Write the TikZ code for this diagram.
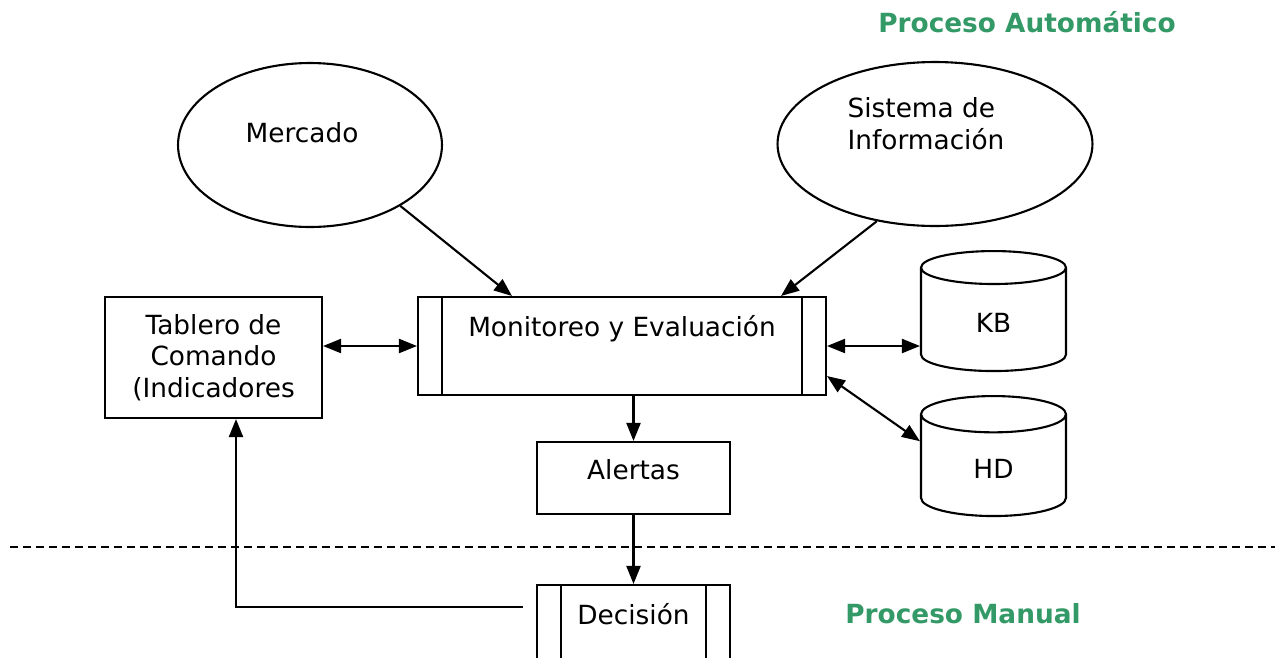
\documentclass[tikz,border=0pt]{standalone}
\usepackage{fontspec}
\setmainfont{DejaVu Sans}
\usetikzlibrary{arrows.meta,shapes.geometric}
\definecolor{procgreen}{RGB}{51,153,102}
\tikzset{
  box/.style={draw, rectangle, line width=1.2pt, align=center},
  process/.style={box, inner ysep=0pt, text height=7.8mm, text depth=11.8mm,
    path picture={
      \draw[line width=1.2pt] ([xshift=4.8mm]path picture bounding box.north west) -- ([xshift=4.8mm]path picture bounding box.south west);
      \draw[line width=1.2pt] ([xshift=-4.8mm]path picture bounding box.north east) -- ([xshift=-4.8mm]path picture bounding box.south east);}},
  source/.style={draw, ellipse, line width=1.2pt},
  store/.style={draw, cylinder, shape border rotate=90, aspect=0.7, line width=1.2pt,
    minimum width=2.9cm, minimum height=2.4cm, anchor=north},
  flow/.style={line width=1.2pt, -{Triangle[length=3.6mm,width=2.8mm]}},
  twoway/.style={line width=1.2pt, {Triangle[length=3.6mm,width=2.8mm]}-{Triangle[length=3.6mm,width=2.8mm]}},
  zone/.style={text=procgreen, font=\fontsize{15}{18}\selectfont\bfseries}
}
\begin{document}
\begin{tikzpicture}[x=0.02cm, y=-0.02cm, every node/.style={font=\fontsize{15}{18}\selectfont}]
  \clip (0,0) rectangle (1275,657);

  % sources
  \node[source, minimum width=5.28cm, minimum height=3.28cm, text height=2mm, text depth=3mm] (merc) at (310,145) {Mercado\hspace*{3.2mm}};
  \node[source, minimum width=6.3cm, minimum height=3.28cm, align=left, text height=2.24mm, text depth=0mm] (sis) at (935,144) {Sistema de\\Información\hspace*{3.6mm}};

  % boxes
  \node[box, minimum width=4.34cm, minimum height=2.42cm] (tab) at (213.5,357.5) {Tablero de\\Comando\\(Indicadores};
  \node[process, minimum width=8.16cm] (mon) at (622,346) {Monitoreo y Evaluación};
  \node[box, minimum width=3.86cm, minimum height=1.44cm, text height=2mm, text depth=1.36mm] (al) at (633.5,478) {Alertas};
  \node[process, minimum width=3.86cm] (dec) at (633.5,634) {Decisión};

  % stores
  \node[store] (kb) at (993.5,250) {KB};
  \node[store] (hd) at (993.5,395) {HD};

  % zones
  \node[zone] (auto) at (1027,22) {Proceso Automático};
  \node[zone] (man) at (963,614) {Proceso Manual};

  % connectors
  \draw[flow] (merc.-34) -- ([xshift=1.9cm]mon.north west);
  \draw[flow] (sis.233) -- ([xshift=-0.92cm]mon.north east);
  \draw[twoway] (tab.east |- mon.west) -- (mon.west);
  \draw[twoway] (mon.east) -- (kb.west |- mon.east);
  \draw[twoway] ([yshift=0.4cm]mon.south east) -- ([yshift=0.56cm]hd.west);
  \draw[flow] (al.north |- mon.south) -- (al.north);
  \draw[flow] (al.south) -- (dec.north);
  \coordinate (back) at ([xshift=-0.26cm, yshift=-0.46cm]dec.north west);
  \draw[flow] (back) -| ([xshift=0.45cm]tab.south);

  % automatic / manual
  \draw[line width=1.2pt, dash pattern=on 1.6mm off 1mm] (10,547) -- (1275,547);
\end{tikzpicture}
\end{document}
